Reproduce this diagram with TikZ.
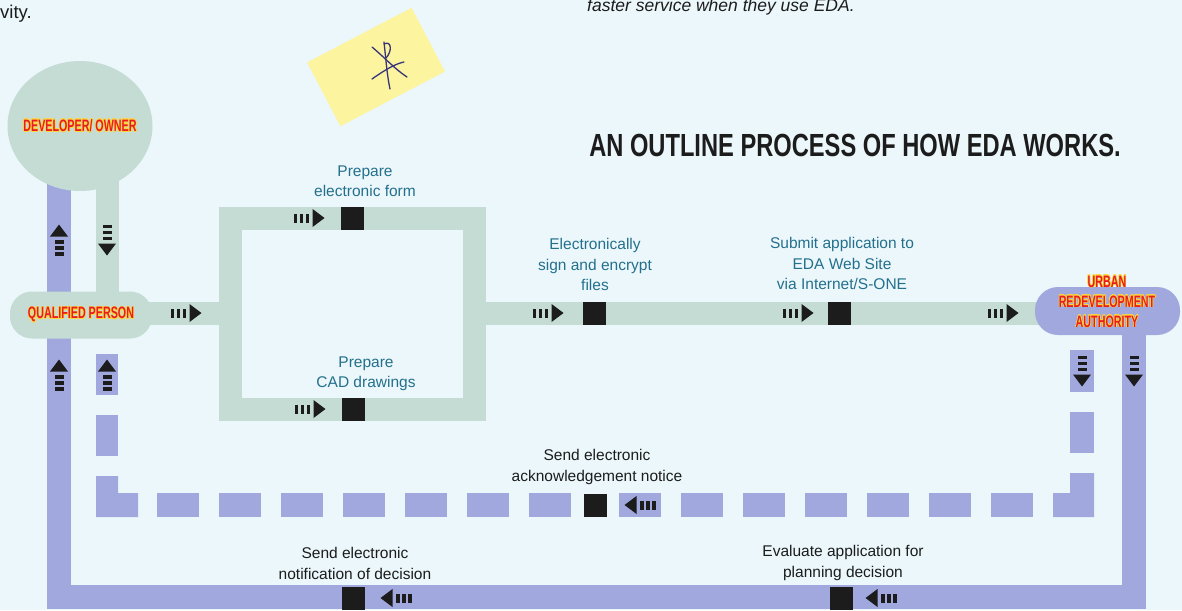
\documentclass[tikz,border=0pt]{standalone}
\usepackage{fontspec}
\setmainfont{Liberation Sans}
\usepackage{tikz}
\usetikzlibrary{shapes.geometric}
\usepackage[copies]{contour}
\contourlength{0.7pt}
\definecolor{pagecyan}{RGB}{235, 247, 251}
\definecolor{formgreen}{RGB}{196, 220, 211}
\definecolor{authpurple}{RGB}{160, 168, 221}
\definecolor{stepteal}{RGB}{36, 112, 140}
\definecolor{inkdark}{RGB}{28, 28, 28}
\definecolor{alarmred}{RGB}{232, 28, 36}
\definecolor{glowyellow}{RGB}{255, 214, 60}
\definecolor{notepaper}{RGB}{253, 244, 160}
\definecolor{penblue}{RGB}{55, 55, 120}

\pgfdeclarelayer{paper}
\pgfdeclarelayer{tracks}
\pgfsetlayers{paper,tracks,main}

\newcommand{\partyname}[1]{\scalebox{0.65}[1]{\contour{glowyellow}{#1}}}

\tikzset{
    trackform/.style  = {draw=formgreen, line width=23pt},
    trackauth/.style  = {draw=authpurple, line width=24pt},
    ackdash/.style    = {fill=authpurple},
    ownerdisc/.style  = {ellipse, fill=formgreen, minimum width=145pt, minimum height=130pt, inner sep=0pt,
                         text=alarmred, font=\fontsize{16.5}{20}\selectfont\bfseries},
    personbox/.style  = {rectangle, rounded corners=22pt, fill=formgreen, minimum width=142pt, minimum height=47pt,
                         inner sep=0pt, text=alarmred, font=\fontsize{16.5}{20}\selectfont\bfseries},
    authbox/.style    = {rectangle, rounded corners=23pt, fill=authpurple, minimum width=145pt, minimum height=48pt,
                         inner sep=0pt},
    authname/.style   = {align=center, inner sep=0pt, text=alarmred, font=\fontsize{16.5}{20}\selectfont\bfseries},
    stamp/.style      = {rectangle, fill=inkdark, minimum size=23pt, inner sep=0pt},
    steplabel/.style  = {anchor=north, align=center, inner sep=0pt, text=stepteal, font=\fontsize{15.5}{20.5}\selectfont},
    notelabel/.style  = {steplabel, text=inkdark},
    penstroke/.style  = {draw=penblue, line width=1.3pt, line cap=round},
    pics/flowtick/.style = {code={
        \fill[inkdark] (-15.5,-4.5) rectangle (-11.7,4.5);
        \fill[inkdark] ( -9.5,-4.5) rectangle ( -5.7,4.5);
        \fill[inkdark] ( -3.5,-4.5) rectangle (  0.3,4.5);
        \fill[inkdark] (  3.5,-9.0) -- (15.5,0) -- (3.5,9.0) -- cycle;
    }}
}

\begin{document}
\begin{tikzpicture}[x=1pt, y=-1pt]
    \useasboundingbox (0,0) rectangle (1182,610);
    \clip (0,0) rectangle (1182,610);

    \coordinate (sw)     at (  59,597);
    \coordinate (se)     at (1134,597);
    \coordinate (dl)     at ( 107,  0);
    \coordinate (row)    at (   0,313);
    \coordinate (loopsw) at ( 230,409);
    \coordinate (loopne) at ( 474,218);

    \node[ownerdisc] (owner)   at (  80.0,126) {\makebox[0pt]{\partyname{DEVELOPER/ OWNER}}};
    \node[personbox] (qp)      at (  81.0,315) {\partyname{QUALIFIED PERSON}};
    \node[authbox]   (ura)     at (1107.5,311) {};
    \node[authname]  (uraname) at (1107.0,302) {\partyname{URBAN}\\\partyname{REDEVELOPMENT}\\\partyname{AUTHORITY}};

    \begin{pgfonlayer}{paper}
        \fill[pagecyan] (0,0) rectangle (1182,610);
    \end{pgfonlayer}

    \begin{pgfonlayer}{tracks}
        \draw[trackauth] (owner.center -| sw) -- (sw) -- (se) -- (ura.center -| se);
        \draw[trackform] (owner.center -| dl) -- (qp.center -| dl);
        \draw[trackform] (qp.center |- row) -- (loopsw |- row);
        \draw[trackform] (loopsw) rectangle (loopne);
        \draw[trackform] (loopne |- row) -- (ura.center |- row);
        \foreach \x in {157,219,281,343,405,467,529,619,681,743,805,867,929,991}
            \fill[ackdash] (\x,493) rectangle ++(42,24);
        \fill[ackdash] (  96,476) -- ( 118,476) -- ( 118,493) -- ( 138,493) -- ( 138,517) -- (  96,517) -- cycle;
        \fill[ackdash] (1094,473) -- (1094,517) -- (1053,517) -- (1053,493) -- (1070,493) -- (1070,473) -- cycle;
        \fill[ackdash] (  96,354) rectangle ( 118,395);
        \fill[ackdash] (  96,415) rectangle ( 118,456);
        \fill[ackdash] (1070,350) rectangle (1094,392);
        \fill[ackdash] (1070,412) rectangle (1094,453);
    \end{pgfonlayer}

    \node[stamp] (sqform)   at (352.5,218) {};
    \node[stamp] (sqcad)    at (353.5,409) {};
    \node[stamp] (sqsign)   at (594.5,313) {};
    \node[stamp] (sqsubmit) at (839.5,313) {};
    \node[stamp] (sqack)    at (595.5,505) {};
    \node[stamp] (sqnotify) at (353.5,598) {};
    \node[stamp] (sqeval)   at (841.5,598) {};

    \pic              at ( 186,313) {flowtick};
    \pic              at ( 309,218) {flowtick};
    \pic              at ( 310,409) {flowtick};
    \pic              at ( 548,313) {flowtick};
    \pic              at ( 798,313) {flowtick};
    \pic              at (1003,313) {flowtick};
    \pic[rotate=90]   at (  59,240) {flowtick};
    \pic[rotate=-90]  at ( 107,240) {flowtick};
    \pic[rotate=90]   at (  59,375) {flowtick};
    \pic[rotate=90]   at ( 107,375) {flowtick};
    \pic[rotate=-90]  at (1082,371) {flowtick};
    \pic[rotate=-90]  at (1134,371) {flowtick};
    \pic[rotate=180]  at ( 640,505) {flowtick};
    \pic[rotate=180]  at ( 396,598) {flowtick};
    \pic[rotate=180]  at ( 881,598) {flowtick};

    \node[steplabel] (formtext)   at (365,165.4) {Prepare\\electronic form};
    \node[steplabel] (cadtext)    at (366,356.4) {Prepare\\CAD drawings};
    \node[steplabel] (signtext)   at (595,238.4) {Electronically\\sign and encrypt\\files};
    \node[steplabel] (submittext) at (842,237.4) {Submit application to\\EDA Web Site\\via Internet/S-ONE};
    \node[notelabel] (acktext)    at (597,449.4) {Send electronic\\acknowledgement notice};
    \node[notelabel] (notifytext) at (355,547.4) {Send electronic\\notification of decision};
    \node[notelabel] (evaltext)   at (843,545.4) {Evaluate application for\\planning decision};

    \node[inner sep=0pt, text=inkdark, font=\fontsize{32}{36}\selectfont\bfseries] (heading) at (855,145)
        {\scalebox{0.74}[1]{AN OUTLINE PROCESS OF HOW EDA WORKS.}};
    \node[anchor=base west, inner sep=0pt, text=inkdark, font=\fontsize{18.5}{20}\selectfont] (prevline) at (0,19) {vity.};
    \node[anchor=base west, inner sep=0pt, text=inkdark, font=\fontsize{17.5}{20}\selectfont\itshape] (introline) at (587,12)
        {faster service when they use EDA.};

    \fill[notepaper, rotate around={27.6:(376,67)}] (317,31) rectangle (435,103);
    \draw[penstroke] (372,47) .. controls (385,58) and (396,70) .. (407,77);
    \draw[penstroke] (384,42) .. controls (386,60) and (387,75) .. (390,89);
    \draw[penstroke] (372,79) .. controls (382,72) and (394,64) .. (404,62);
    \draw[penstroke] (384,44) .. controls (392,40) and (392,52) .. (386,58);
\end{tikzpicture}
\end{document}
